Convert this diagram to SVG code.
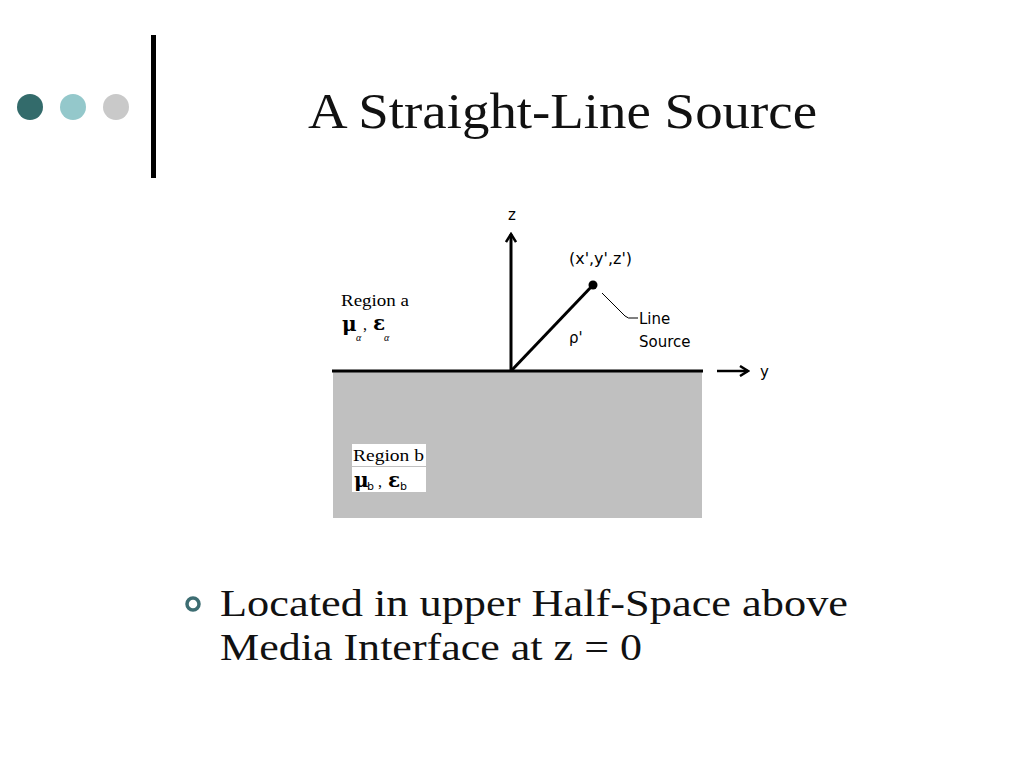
<svg xmlns="http://www.w3.org/2000/svg" width="1024" height="768" viewBox="0 0 1024 768">
<style>
.title{font-family:"Liberation Serif","DejaVu Serif",serif;font-size:50px;fill:#111}
.body{font-family:"Liberation Serif","DejaVu Serif",serif;font-size:37px;fill:#111}
.sans{font-family:"DejaVu Sans","Liberation Sans",sans-serif;font-size:15px;fill:#000}
.ser{font-family:"Liberation Serif","DejaVu Serif",serif;font-size:16px;fill:#000}
.greek{font-family:"DejaVu Serif","Liberation Serif",serif;font-size:20px;font-weight:bold;fill:#000}
.sub{font-family:"Liberation Serif",serif;font-size:10px;font-style:italic;fill:#000}
.subb{font-family:"DejaVu Sans",sans-serif;font-size:11px;fill:#000}
.axis{stroke:#000;stroke-width:3;fill:none}
</style>
<defs>
<marker id="chev" viewBox="0 0 12 12" refX="10" refY="6" markerWidth="12" markerHeight="12" markerUnits="userSpaceOnUse" orient="auto">
<path d="M2,1 L10,6 L2,11" fill="none" stroke="#000" stroke-width="2.5"/>
</marker>
</defs>
<rect width="1024" height="768" fill="#fff"/>
<g id="decor">
<circle cx="30" cy="107" r="13" fill="#336b6b"/>
<circle cx="73" cy="107" r="13" fill="#94c8cb"/>
<circle cx="116" cy="107" r="13" fill="#c9c9c9"/>
<rect x="151" y="35" width="5" height="143" fill="#000"/>
</g>
<g id="title"><text class="title" x="308" y="128" textLength="509" lengthAdjust="spacingAndGlyphs">A Straight-Line Source</text></g>
<g id="regionb">
<rect x="333" y="372" width="369" height="146" fill="#c0c0c0"/>
<rect x="352" y="444" width="74" height="22" fill="#fff"/>
<rect x="352" y="467" width="74" height="25" fill="#fff"/>
<text class="ser" x="353" y="461" textLength="71" lengthAdjust="spacingAndGlyphs">Region b</text>
<text class="greek" x="354" y="487">μ</text>
<text class="subb" x="367" y="490">b</text>
<text class="ser" x="378" y="487">,</text>
<text class="greek" x="388" y="487" font-size="18">ε</text>
<text class="subb" x="400" y="490">b</text>
</g>
<g id="regiona">
<text class="ser" x="341" y="306" textLength="68" lengthAdjust="spacingAndGlyphs">Region a</text>
<text class="greek" x="342" y="331">μ</text>
<text class="sub" x="356" y="341">α</text>
<text class="ser" x="363" y="330">,</text>
<text class="greek" x="373" y="330" font-size="18">ε</text>
<text class="sub" x="384" y="341">α</text>
</g>
<g id="connectors">
<line class="axis" x1="332" y1="371" x2="703" y2="371"/>
<line class="axis" x1="511" y1="371" x2="511" y2="234" marker-end="url(#chev)"/>
<line class="axis" x1="511" y1="371" x2="593" y2="285"/>
<line x1="717" y1="371" x2="748" y2="371" stroke="#000" stroke-width="2.5" marker-end="url(#chev)"/>
<path d="M602,293 L625,316 Q628,319 633,318 L638,318" fill="none" stroke="#000" stroke-width="1"/>
</g>
<g id="source">
<circle cx="593" cy="285" r="4.5" fill="#000"/>
<text class="sans" x="569" y="264" textLength="63" lengthAdjust="spacingAndGlyphs">(x',y',z')</text>
<text class="sans" x="639" y="324">Line</text>
<text class="sans" x="639" y="347">Source</text>
<text class="sans" x="569" y="343">ρ'</text>
</g>
<g id="labels">
<text class="sans" x="512" y="220" text-anchor="middle">z</text>
<text class="sans" x="760" y="377">y</text>
</g>
<g id="bullet">
<circle cx="193" cy="604" r="6" fill="none" stroke="#3d6d72" stroke-width="3.5"/>
<text class="body" x="220" y="616" textLength="628" lengthAdjust="spacingAndGlyphs">Located in upper Half-Space above</text>
<text class="body" x="220" y="660" textLength="422" lengthAdjust="spacingAndGlyphs">Media Interface at z = 0</text>
</g>
</svg>
